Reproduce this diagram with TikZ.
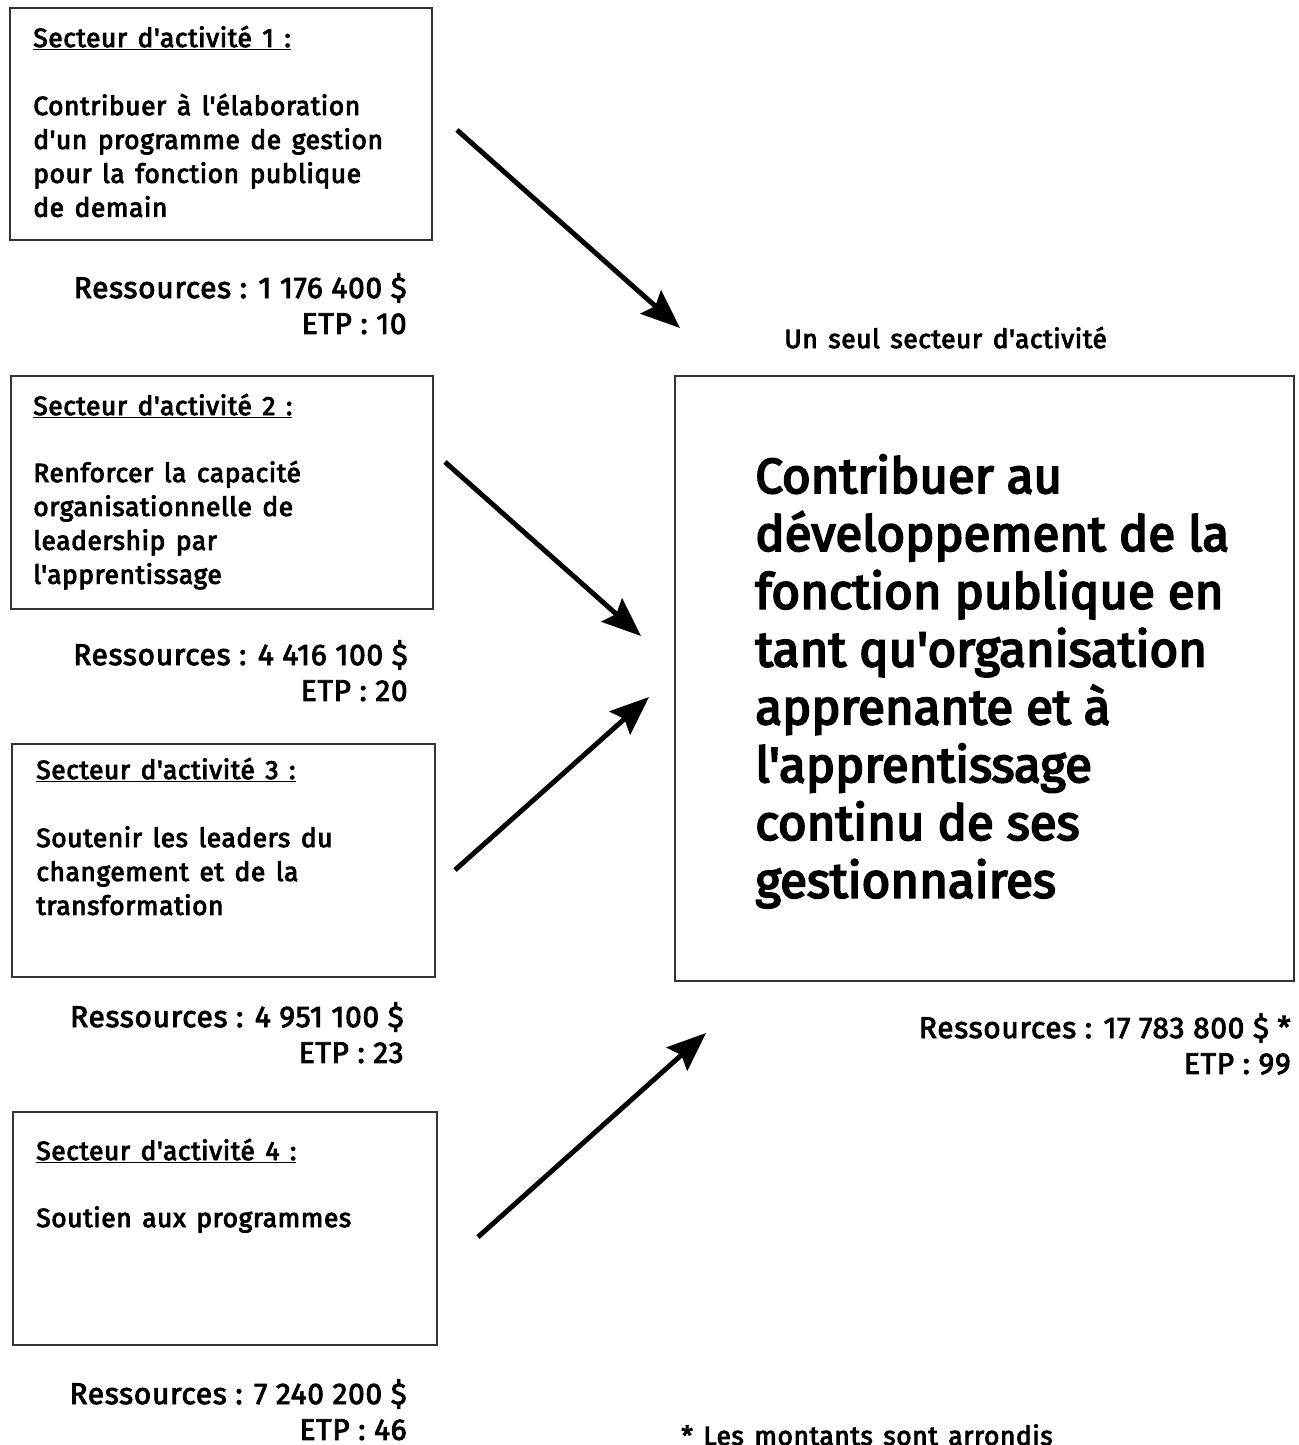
\documentclass[tikz,border=0pt]{standalone}
\usepackage{fontspec}
\newfontfamily\smallfnt{Fira Sans}[LetterSpace=2.2,WordSpace=1.4,FakeBold=3.5]
\newfontfamily\resfnt{Fira Sans}[LetterSpace=2.4,WordSpace=1.0,FakeBold=3]
\newfontfamily\bigfnt{Fira Sans}[FakeBold=4]
\usetikzlibrary{arrows.meta}
\newcommand{\leftlines}[1]{\begin{tabular}[t]{@{}l@{}}#1\end{tabular}}
\newcommand{\rightlines}[1]{\begin{tabular}[t]{@{}r@{}}#1\end{tabular}}
\begin{document}
\begin{tikzpicture}[x=0.02cm,y=-0.02cm,
  box/.style={draw=black!80,line width=0.8pt},
  txt/.style={inner sep=0pt,font=\smallfnt\fontsize{15pt}{19.3pt}\selectfont,anchor=base west},
  res/.style={inner sep=0pt,font=\resfnt\fontsize{17pt}{20.4pt}\selectfont,anchor=base east},
  big/.style={inner sep=0pt,font=\bigfnt\fontsize{28pt}{32.9pt}\selectfont,anchor=base west},
  arr/.style={line width=2.8pt,-{Stealth[length=0.78cm,width=0.62cm,inset=0.12cm]}}]
\useasboundingbox (0,0) rectangle (1299,1445);
% boxes
\draw[box] (10,8) rectangle (432,240);
\draw[box] (11,376) rectangle (433,609);
\draw[box] (12,744) rectangle (435,977);
\draw[box] (13,1112) rectangle (437,1345);
\draw[box] (675,376) rectangle (1294,981);
% sector 1
\node[txt] (t1) at (33,47) {\underline{Secteur d'activité 1 :}};
\node[txt] (b1) at (33,115) {\leftlines{Contribuer à l'élaboration\\d'un programme de gestion\\pour la fonction publique\\de demain}};
\node[res] (r1) at (407,298) {\rightlines{Ressources : 1 176 400 \$\\ETP : 10}};
% sector 2
\node[txt] (t2) at (33,415) {\underline{Secteur d'activité 2 :}};
\node[txt] (b2) at (33,482) {\leftlines{Renforcer la capacité\\organisationnelle de\\leadership par\\l'apprentissage}};
\node[res] (r2) at (408,665) {\rightlines{Ressources : 4 416 100 \$\\ETP : 20}};
% sector 3
\node[txt] (t3) at (36,779) {\underline{Secteur d'activité 3 :}};
\node[txt] (b3) at (36,847) {\leftlines{Soutenir les leaders du\\changement et de la\\transformation}};
\node[res] (r3) at (404,1027) {\rightlines{Ressources : 4 951 100 \$\\ETP : 23}};
% sector 4
\node[txt] (t4) at (36,1160) {\underline{Secteur d'activité 4 :}};
\node[txt] (b4) at (36,1227) {Soutien aux programmes};
\node[res] (r4) at (407,1404) {\rightlines{Ressources : 7 240 200 \$\\ETP : 46}};
% main
\node[txt] (us) at (784,348) {Un seul secteur d'activité};
\node[big] (m) at (755,493) {\leftlines{Contribuer au\\développement de la\\fonction publique en\\tant qu'organisation\\apprenante et à\\l'apprentissage\\continu de ses\\gestionnaires}};
\node[res] (rm) at (1291,1038) {\rightlines{Ressources : 17 783 800 \$ *\\ETP : 99}};
\node[txt] (note) at (681,1445) {* Les montants sont arrondis};
% arrows
\coordinate (s1) at (457,130); \coordinate (e1) at (680,328);
\coordinate (s2) at (445,462); \coordinate (e2) at (641,636);
\coordinate (s3) at (455,870); \coordinate (e3) at (649,697);
\coordinate (s4) at (478,1237); \coordinate (e4) at (706,1033);
\draw[arr] (s1) -- (e1);
\draw[arr] (s2) -- (e2);
\draw[arr] (s3) -- (e3);
\draw[arr] (s4) -- (e4);
\end{tikzpicture}
\end{document}
